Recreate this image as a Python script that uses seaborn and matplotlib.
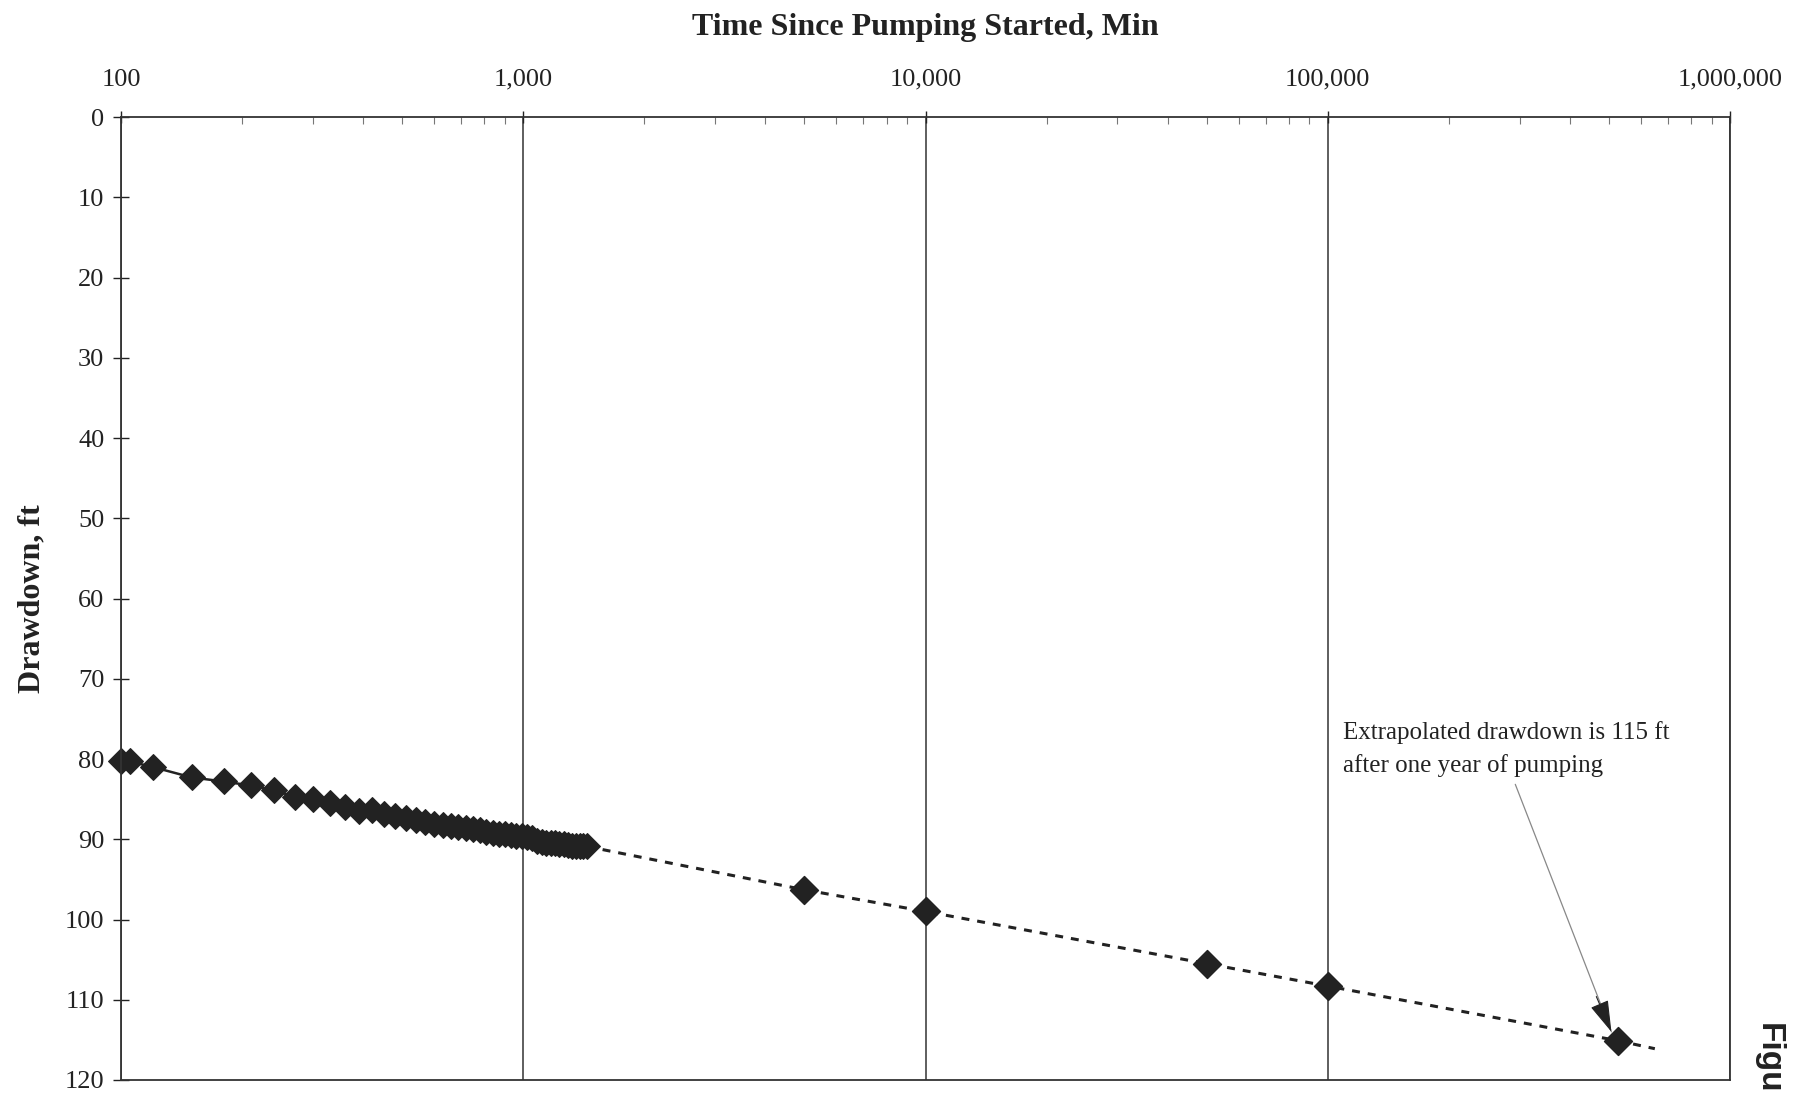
import matplotlib
matplotlib.use("Agg")
import matplotlib.pyplot as plt
import numpy as np
import pandas as pd
import seaborn as sns
from matplotlib.ticker import FixedLocator, FixedFormatter, LogLocator, NullFormatter

# ---- data ----
obs_time = [100, 105, 120, 150, 180, 210, 240, 270, 300, 330, 360, 390, 420, 450,
            480, 510, 540, 570, 600, 630, 660, 690, 720, 750, 780, 810, 840, 870,
            900, 930, 960, 990, 1020, 1050, 1080, 1110, 1140, 1170, 1200, 1230,
            1260, 1290, 1320, 1350, 1380, 1410, 1440]
obs_dd = [80.2, 80.3, 81.0, 82.3, 82.8, 83.3, 83.9, 84.7, 85.0, 85.5, 86.0, 86.5,
          86.4, 86.8, 87.1, 87.4, 87.6, 87.8, 88.1, 88.2, 88.4, 88.5, 88.6, 88.7,
          88.9, 89.1, 89.2, 89.3, 89.4, 89.5, 89.6, 89.6, 89.7, 89.9, 90.2, 90.4,
          90.5, 90.5, 90.5, 90.6, 90.6, 90.7, 90.8, 90.8, 90.9, 90.9, 90.9]

ext_time = [5000, 10000, 50000, 100000, 525600]
ext_dd = [96.3, 99.0, 105.5, 108.3, 115.1]

trend_time = [1440, 5000, 10000, 50000, 100000, 525600, 650000]
trend_dd = [90.9, 96.3, 99.0, 105.5, 108.3, 115.1, 116.1]

x_ticks = [100, 1000, 10000, 100000, 1000000]
x_tick_labels = ["100", "1,000", "10,000", "100,000", "1,000,000"]
y_ticks = list(range(0, 121, 10))

annot_text = "Extrapolated drawdown is 115 ft\nafter one year of pumping"
x_title = "Time Since Pumping Started, Min"
y_title = "Drawdown, ft"
side_text = "Figu"

obs = pd.DataFrame({"time": obs_time, "drawdown": obs_dd})
ext = pd.DataFrame({"time": ext_time, "drawdown": ext_dd})
trend = pd.DataFrame({"time": trend_time, "drawdown": trend_dd})

# ---- style ----
sns.set_theme(style="white")
plt.rcParams['font.family'] = ['Liberation Serif', 'DejaVu Serif']
ink = "#222222"

fig = plt.figure(figsize=(18.12, 10.96), dpi=100)
ax = fig.add_axes([0.0668, 0.0146, 0.8880, 0.8786])
ax.set_xscale("log")

# dashed extrapolation line
sns.lineplot(data=trend, x="time", y="drawdown", ax=ax, color=ink, lw=2.2,
             linestyle=(0, (2.6, 2.6)), sort=False, estimator=None)
# observed data (solid line + diamonds)
sns.lineplot(data=obs, x="time", y="drawdown", ax=ax, color=ink, lw=1.8,
             marker="D", markersize=13, markeredgecolor=ink, sort=False,
             estimator=None)
for ln in ax.lines:
    ln.set_clip_on(False)
# extrapolated points
sns.scatterplot(data=ext, x="time", y="drawdown", ax=ax, color=ink, marker="D",
                s=200, edgecolor=ink, zorder=5)

ax.set_xlim(100, 1000000)
ax.set_ylim(120, 0)

# x axis on top
ax.xaxis.set_ticks_position("top")
ax.xaxis.set_label_position("top")
ax.xaxis.set_major_locator(FixedLocator(x_ticks))
ax.xaxis.set_major_formatter(FixedFormatter(x_tick_labels))
ax.xaxis.set_minor_locator(LogLocator(base=10, subs=np.arange(2, 10)))
ax.xaxis.set_minor_formatter(NullFormatter())
ax.tick_params(axis="x", which="major", direction="inout", length=8, width=1,
               colors=ink, labelsize=19, pad=15)
ax.tick_params(axis="x", which="minor", direction="in", length=5, width=0.8,
               colors="#777777")
ax.set_yticks(y_ticks)
ax.tick_params(axis="y", which="major", direction="inout", length=12, width=1,
               colors=ink, labelsize=19, pad=6, left=True)

ax.grid(axis="x", which="major", color="#333333", lw=1.1)
ax.grid(axis="y", visible=False)
for s in ax.spines.values():
    s.set_color("#333333")
    s.set_linewidth(1.3)

ax.set_xlabel(x_title, fontsize=23, fontweight="bold", color=ink, labelpad=24)
ax.set_ylabel(y_title, fontsize=23, fontweight="bold", color=ink, labelpad=13)

# annotation: gray leader line with black arrow head
tip = (507000, 114.0)
ax.annotate(annot_text, xy=tip, xytext=(108900, 75.3), textcoords="data",
            ha="left", va="top", fontsize=18, color=ink, linespacing=1.55,
            arrowprops=dict(arrowstyle="-", color="#888888", lw=0.9,
                            relpos=(0.52, 0.0), shrinkA=3, shrinkB=0))
ax.annotate("", xy=tip, xytext=(465000, 109.6), textcoords="data",
            arrowprops=dict(arrowstyle="-|>,head_length=1.0,head_width=0.3",
                            color=ink, lw=0.8, mutation_scale=20,
                            shrinkA=0, shrinkB=0))

fig.text(0.9757, 0.0666, side_text, rotation=-90, ha="center", va="top",
         fontsize=24, fontweight="bold", color=ink,
         family=["Liberation Sans", "DejaVu Sans"])

fig.savefig("out.png", dpi=100)
